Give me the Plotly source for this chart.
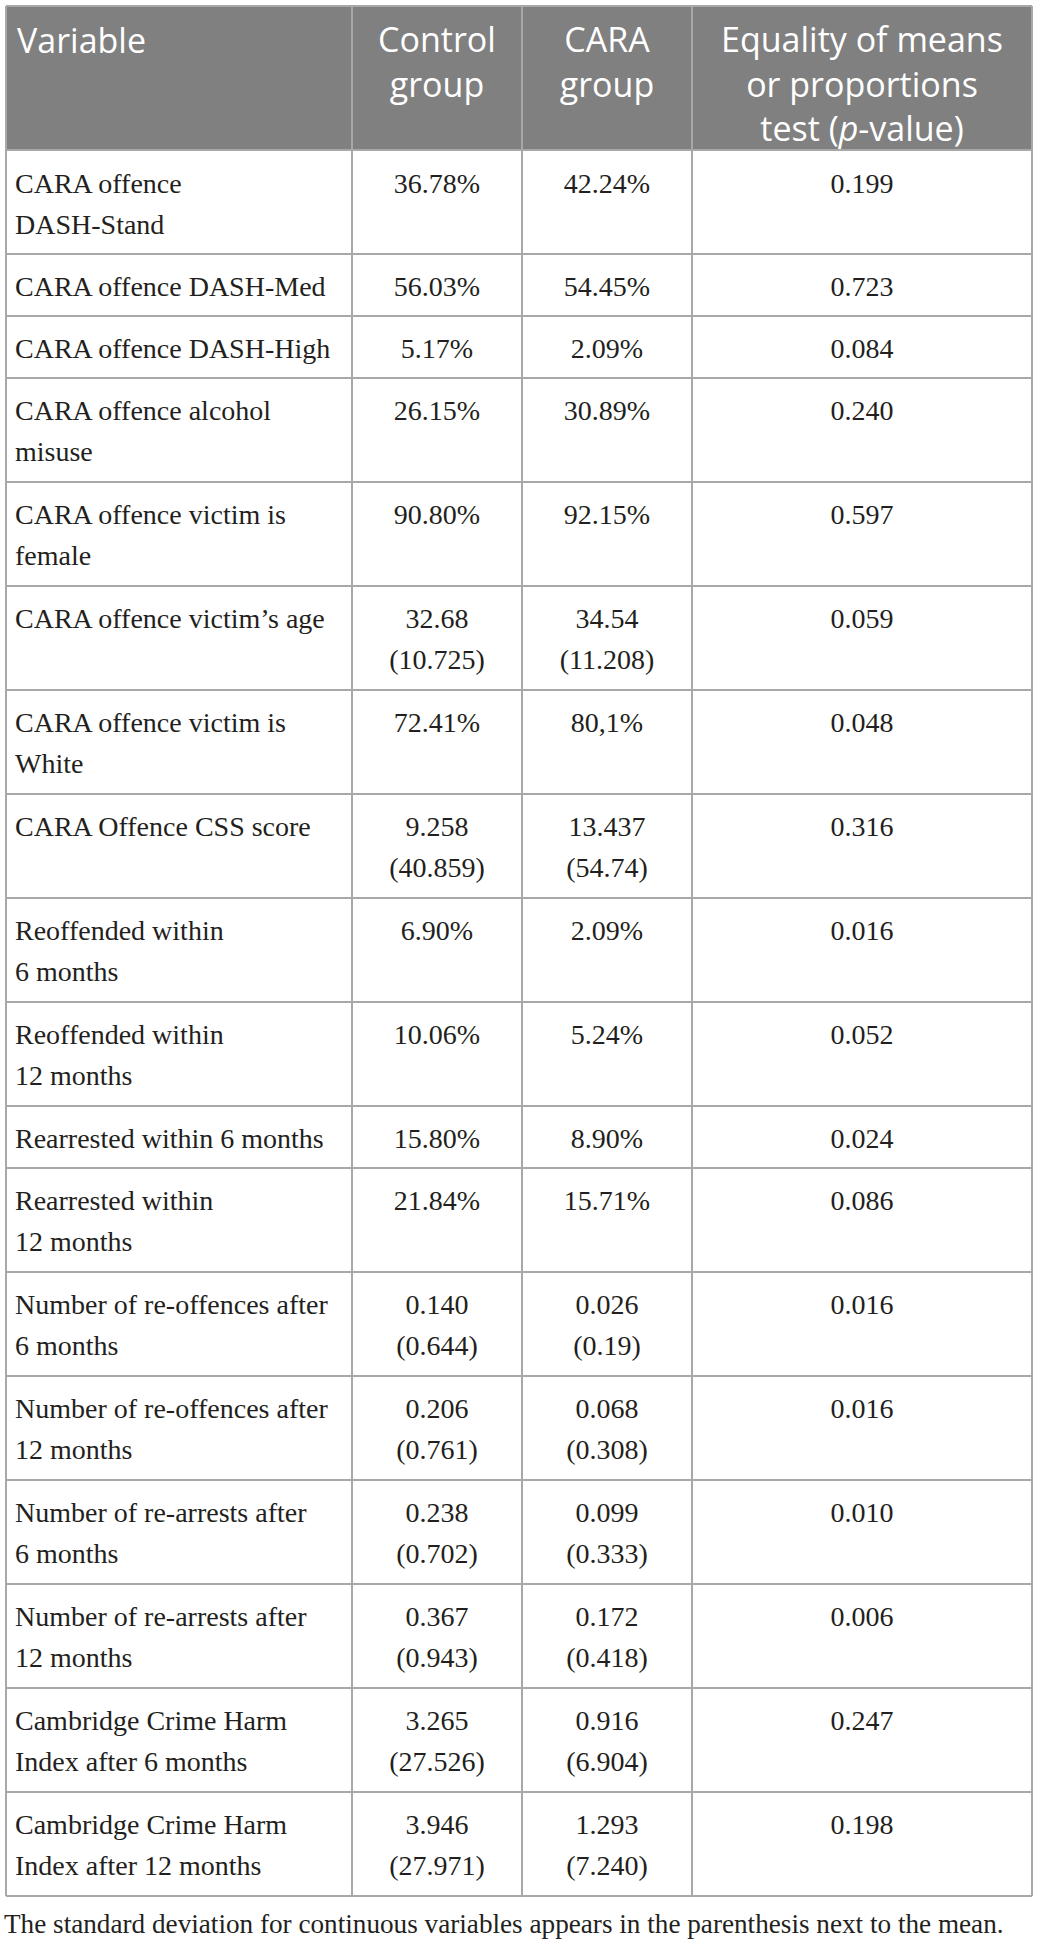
import plotly.graph_objects as go

# table content
headers = ["Variable", "Control<br>group", "CARA<br>group",
           "Equality of means<br>or proportions<br>test (<i>p</i>-value)"]

variables = [
    "CARA offence<br>DASH-Stand",
    "CARA offence DASH-Med",
    "CARA offence DASH-High",
    "CARA offence alcohol<br>misuse",
    "CARA offence victim is<br>female",
    "CARA offence victim\u2019s age",
    "CARA offence victim is<br>White",
    "CARA Offence CSS score",
    "Reoffended within<br>6 months",
    "Reoffended within<br>12 months",
    "Rearrested within 6 months",
    "Rearrested within<br>12 months",
    "Number of re-offences after<br>6 months",
    "Number of re-offences after<br>12 months",
    "Number of re-arrests after<br>6 months",
    "Number of re-arrests after<br>12 months",
    "Cambridge Crime Harm<br>Index after 6 months",
    "Cambridge Crime Harm<br>Index after 12 months",
]

control_mean = ["36.78%", "56.03%", "5.17%", "26.15%", "90.80%", "32.68", "72.41%",
                "9.258", "6.90%", "10.06%", "15.80%", "21.84%", "0.140", "0.206",
                "0.238", "0.367", "3.265", "3.946"]
control_sd = [None, None, None, None, None, "10.725", None, "40.859", None, None,
              None, None, "0.644", "0.761", "0.702", "0.943", "27.526", "27.971"]

cara_mean = ["42.24%", "54.45%", "2.09%", "30.89%", "92.15%", "34.54", "80,1%",
             "13.437", "2.09%", "5.24%", "8.90%", "15.71%", "0.026", "0.068",
             "0.099", "0.172", "0.916", "1.293"]
cara_sd = [None, None, None, None, None, "11.208", None, "54.74", None, None,
           None, None, "0.19", "0.308", "0.333", "0.418", "6.904", "7.240"]

p_values = ["0.199", "0.723", "0.084", "0.240", "0.597", "0.059", "0.048", "0.316",
            "0.016", "0.052", "0.024", "0.086", "0.016", "0.016", "0.010", "0.006",
            "0.247", "0.198"]

footnote = "The standard deviation for continuous variables appears in the parenthesis next to the mean."

# layout / style (pixels)
W, H = 1039, 1949
COL_EDGES = [6, 352, 522, 692, 1032]
TOP = 6
HEADER_H = 144
ROW_PAD = 20
ROW_PITCH = 42
TEXT_PITCH = 41
TEXT_OFFSET = 35
HEADER_OFFSET = 38
GRID = "#a8a8a8"
HEADER_BG = "#808080"
INK = "#231f20"
SERIF = "Liberation Serif"
SANS = "Open Sans"
BODY_SIZE = 28
HEAD_SIZE = 34


def cell_lines(mean, sd):
    return [mean] if sd is None else [mean, "(" + sd + ")"]


rows = []
for i, var in enumerate(variables):
    rows.append([var.split("<br>"),
                 cell_lines(control_mean[i], control_sd[i]),
                 cell_lines(cara_mean[i], cara_sd[i]),
                 [p_values[i]]])

row_tops = []
y = TOP + HEADER_H
for cols in rows:
    row_tops.append(y)
    y += ROW_PAD + ROW_PITCH * max(len(c) for c in cols)
table_bottom = y

col_x = [COL_EDGES[0] + 9] + [(COL_EDGES[k] + COL_EDGES[k + 1]) / 2 for k in range(1, 4)]
col_pos = ["middle right", "middle center", "middle center", "middle center"]

fig = go.Figure()

# header
fig.add_shape(type="rect", x0=COL_EDGES[0], x1=COL_EDGES[-1], y0=TOP, y1=TOP + HEADER_H,
              fillcolor=HEADER_BG, line_width=0, layer="below")
for k, h in enumerate(headers):
    n = len(h.split("<br>"))
    fig.add_trace(go.Scatter(
        x=[col_x[k] + (2 if k == 0 else 0)],
        y=[TOP + HEADER_OFFSET + (n - 1) * HEAD_SIZE * 1.3 / 2],
        text=[h], mode="text", textposition=col_pos[k],
        textfont=dict(family=SANS, size=HEAD_SIZE, color="white"),
        hoverinfo="skip", showlegend=False))

# body cells
for k in range(4):
    xs, ys, ts = [], [], []
    for i, cols in enumerate(rows):
        for j, line in enumerate(cols[k]):
            xs.append(col_x[k])
            ys.append(row_tops[i] + TEXT_OFFSET + (1 if i == 0 else 0) + j * TEXT_PITCH)
            ts.append(line)
    fig.add_trace(go.Scatter(
        x=xs, y=ys, text=ts, mode="text", textposition=col_pos[k],
        textfont=dict(family=SERIF, size=BODY_SIZE, color=INK),
        hoverinfo="skip", showlegend=False))

# grid lines
h_lines = [TOP, TOP + HEADER_H] + row_tops[1:] + [table_bottom]
for yy in h_lines:
    fig.add_shape(type="line", x0=COL_EDGES[0], x1=COL_EDGES[-1], y0=yy, y1=yy,
                  line=dict(color=GRID, width=2))
for xx in COL_EDGES:
    fig.add_shape(type="line", x0=xx, x1=xx, y0=TOP, y1=table_bottom,
                  line=dict(color=GRID, width=2))

# footnote
fig.add_trace(go.Scatter(
    x=[COL_EDGES[0] - 2], y=[table_bottom + 30], text=[footnote], mode="text",
    textposition="middle right",
    textfont=dict(family=SERIF, size=27.2, color=INK),
    hoverinfo="skip", showlegend=False))

fig.update_layout(
    width=W, height=H, margin=dict(l=0, r=0, t=0, b=0),
    paper_bgcolor="white", plot_bgcolor="white",
    xaxis=dict(range=[0, W], visible=False, fixedrange=True),
    yaxis=dict(range=[H, 0], visible=False, fixedrange=True),
    hovermode=False,
)

fig.write_html("out.html", config={"displayModeBar": False},
               post_script="document.body.style.margin='0px';")
